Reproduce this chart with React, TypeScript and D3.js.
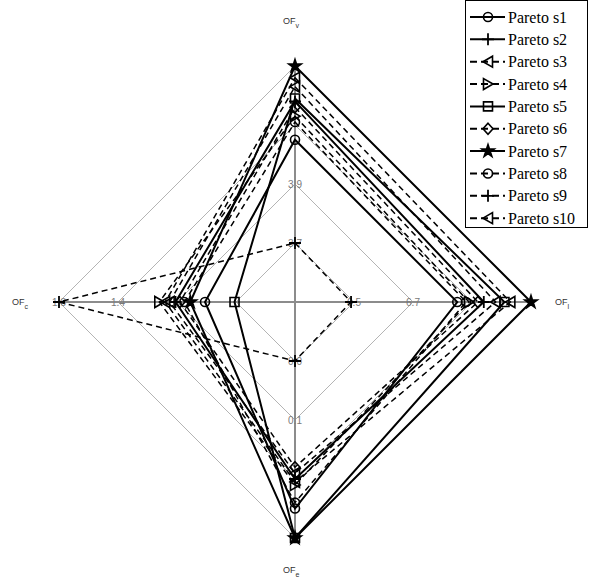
import React from "react";
import * as d3 from "d3";

const seriesNames = [
  "Pareto s1", "Pareto s2", "Pareto s3", "Pareto s4", "Pareto s5",
  "Pareto s6", "Pareto s7", "Pareto s8", "Pareto s9", "Pareto s10",
];
// values per objective (OF_v top, OF_l right, OF_e bottom, OF_c left)
const ofV = [4.05, 4.18, 4.23, 4.13, 4.19, 4.16, 4.3, 4.11, 3.7, 4.26];
const ofL = [6.85, 6.94, 6.98, 6.89, 7.01, 6.92, 7.1, 6.88, 6.49, 7.03];
const ofE = [0.25, 0.2, 0.19, 0.21, 0.3, 0.18, 0.3, 0.24, 0.0, 0.205];
const ofC = [0.81, 1.01, 1.05, 1.12, 0.61, 0.98, 0.91, 0.95, 1.8, 1.08];

const axisSubs = ["v", "l", "e", "c"];
const axisMin = [3.5, 6.3, -0.1, 0.2];
const axisMax = [4.3, 7.1, 0.3, 1.8];
const tickV = [3.7, 3.9];
const tickL = [6.5, 6.7];
const tickE = [0.0, 0.1];
const tickC = [1.4, 1.8];

const markers = ["circle", "plus", "triLeft", "triRight", "square", "diamond", "star", "circle2", "plus", "triLeft"];
const dashed = [false, false, true, true, false, true, false, true, true, true];

const W = 589, H = 580;
const cx = 295, cy = 302, R = 236;
const angles = [-Math.PI / 2, 0, Math.PI / 2, Math.PI];

function markerPath(kind: string): string {
  switch (kind) {
    case "circle":
    case "circle2":
      return d3.symbol(d3.symbolCircle, 64)()!;
    case "square":
      return "M-4.5,-4.5H4.5V4.5H-4.5Z";
    case "diamond":
      return "M0,-5.5L5,0L0,5.5L-5,0Z";
    case "triLeft":
      return "M-5,0L4.5,-5.5L4.5,5.5Z";
    case "triRight":
      return "M5,0L-4.5,-5.5L-4.5,5.5Z";
    case "star":
      return d3.symbol(d3.symbolStar, 48)()!;
    case "plus":
      return "M-6,0H6M0,-6V6";
  }
  return "";
}

function Marker({ kind, x, y }: { kind: string; x: number; y: number }) {
  const filled = kind === "star";
  return (
    <path
      d={markerPath(kind)}
      transform={`translate(${x},${y})`}
      fill={filled ? "#000" : "none"}
      stroke="#000"
      strokeWidth={kind === "plus" ? 1.8 : 1.6}
    />
  );
}

export default function App() {
  const scales = axisMin.map((mn, i) =>
    d3.scaleLinear().domain([mn, axisMax[i]]).range([0, R])
  );
  const pt = (ai: number, v: number): [number, number] => {
    const r = scales[ai](v);
    return [cx + r * Math.cos(angles[ai]), cy + r * Math.sin(angles[ai])];
  };
  const allVals = [ofV, ofL, ofE, ofC];
  const line = d3.line<[number, number]>().curve(d3.curveLinearClosed);
  const fmt = d3.format(".1f");
  const ticks = [tickV, tickL, tickE, tickC];

  const rings = [1, 2, 3, 4].map((k) => {
    const r = (R * k) / 4;
    return line(angles.map((a) => [cx + r * Math.cos(a), cy + r * Math.sin(a)]))!;
  });

  const titlePos: [number, number][] = [
    [283, 24],
    [555, 305],
    [283, 573],
    [12, 305],
  ];

  const legendX = 465, legendY0 = 17, legendDy = 22.35;

  return (
    <svg
      width={W}
      height={H}
      style={{ position: "absolute", left: 0, top: 0, background: "#fff" }}
      fontFamily="'Liberation Sans', Arial, sans-serif"
    >
      <rect x={0} y={0} width={W} height={H} fill="#fff" />
      {rings.map((d, i) => (
        <path key={i} d={d} fill="none" stroke="#b4b4b4" strokeWidth={1} />
      ))}
      {angles.map((a, i) => (
        <line
          key={i}
          x1={cx}
          y1={cy}
          x2={cx + R * Math.cos(a)}
          y2={cy + R * Math.sin(a)}
          stroke="#8c8c8c"
          strokeWidth={2}
        />
      ))}
      {ticks.map((tk, ai) =>
        tk.map((t) => {
          const [x, y] = pt(ai, t);
          return (
            <text
              key={`${ai}-${t}`}
              x={x}
              y={y + 3.5}
              textAnchor="middle"
              fontSize={10}
              fill="#7a7a7a"
            >
              {fmt(t)}
            </text>
          );
        })
      )}
      {axisSubs.map((s, i) => (
        <text key={s} x={titlePos[i][0]} y={titlePos[i][1]} fontSize={9} fill="#333">
          OF
          <tspan fontSize={7} dy={4}>
            {s}
          </tspan>
        </text>
      ))}
      {seriesNames.map((n, si) => {
        const pts = allVals.map((vals, ai) => pt(ai, vals[si]));
        return (
          <path
            key={n}
            d={line(pts)!}
            fill="none"
            stroke="#000"
            strokeWidth={dashed[si] ? 1.5 : 2}
            strokeDasharray={dashed[si] ? "6,4" : undefined}
          />
        );
      })}
      {seriesNames.map((n, si) =>
        allVals.map((vals, ai) => {
          const [x, y] = pt(ai, vals[si]);
          return <Marker key={`${n}-${ai}`} kind={markers[si]} x={x} y={y} />;
        })
      )}
      <rect
        x={legendX + 0.5}
        y={0.5}
        width={122}
        height={227}
        fill="#fff"
        stroke="#000"
        strokeWidth={1}
      />
      {seriesNames.map((n, si) => {
        const y = legendY0 + si * legendDy;
        return (
          <g key={n}>
            <line
              x1={470}
              x2={505}
              y1={y}
              y2={y}
              stroke="#000"
              strokeWidth={2}
              strokeDasharray={dashed[si] ? "7,4" : undefined}
            />
            <Marker kind={markers[si]} x={488} y={y} />
            <text
              x={508}
              y={y + 5.5}
              fontSize={16}
              style={{ fontFamily: "'Liberation Serif', 'Times New Roman', serif" }}
              fill="#000"
            >
              {n}
            </text>
          </g>
        );
      })}
    </svg>
  );
}
